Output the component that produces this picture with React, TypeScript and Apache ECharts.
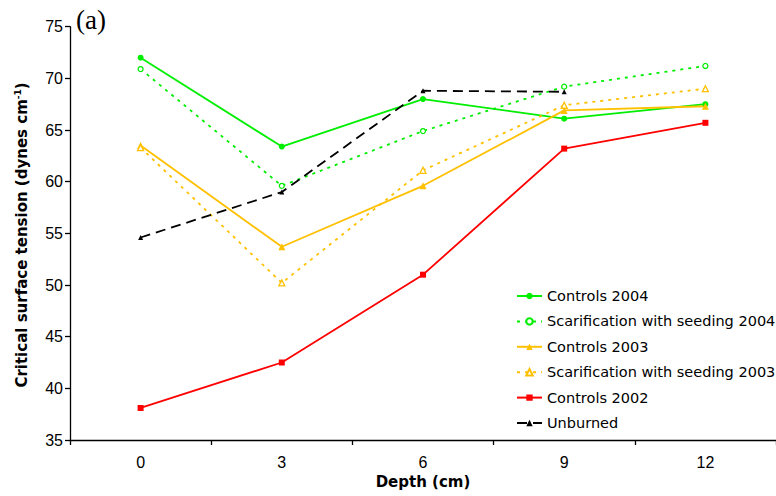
import React, { useEffect, useRef } from "react";
import * as echarts from "echarts";

const depths = ["0", "3", "6", "9", "12"];
const controls2004 = [72.0, 63.4, 68.0, 66.1, 67.5];
const scarification2004 = [70.9, 59.6, 64.9, 69.2, 71.2];
const controls2003 = [63.5, 53.7, 59.6, 66.9, 67.3];
const scarification2003 = [63.3, 50.2, 61.1, 67.4, 69.0];
const controls2002 = [38.1, 42.5, 51.0, 63.2, 65.7];
const unburned = [54.6, 59.0, 68.8, 68.7];
const yTicks = { min: 35, max: 75, step: 5 };

const FONT = "'Liberation Sans', Arial, sans-serif";
const WIDE = "'DejaVu Sans', sans-serif";
const GREEN = "#00ee00";
const ORANGE = "#ffc000";
const RED = "#ff0000";

function makeSeries(
  name: string,
  data: number[],
  color: string,
  symbol: string,
  size: number,
  lineType: any,
  hollow: boolean
) {
  return {
    name,
    type: "line",
    data,
    symbol,
    symbolSize: size,
    showSymbol: true,
    lineStyle: { color, width: 1.8, type: lineType },
    itemStyle: {
      color: hollow ? "#ffffff" : color,
      borderColor: color,
      borderWidth: hollow ? 1.3 : 0,
    },
    emphasis: { disabled: true },
  };
}

export default function App() {
  const ref = useRef<HTMLDivElement>(null);

  useEffect(() => {
    if (!ref.current) return;
    const chart = echarts.init(ref.current, undefined, { renderer: "svg" });
    chart.setOption({
      animation: false,
      backgroundColor: "#ffffff",
      grid: { left: 70, top: 26.7, width: 710, bottom: 56, containLabel: false },
      xAxis: {
        type: "category",
        data: depths,
        boundaryGap: true,
        name: "Depth (cm)",
        nameLocation: "middle",
        nameGap: 33,
        nameTextStyle: { fontFamily: WIDE, fontWeight: "bold", fontSize: 15, color: "#000" },
        axisLine: { lineStyle: { color: "#000", width: 1.3 } },
        axisTick: { show: true, length: 5, lineStyle: { color: "#000", width: 1.3 } },
        axisLabel: { fontFamily: FONT, fontSize: 16, color: "#000", margin: 14 },
        splitLine: { show: false },
      },
      yAxis: {
        type: "value",
        min: yTicks.min,
        max: yTicks.max,
        interval: yTicks.step,
        axisLine: { show: true, lineStyle: { color: "#000", width: 1.3 } },
        axisTick: { show: true, length: 5, lineStyle: { color: "#000", width: 1.3 } },
        axisLabel: { fontFamily: FONT, fontSize: 16, color: "#000", margin: 7 },
        splitLine: { show: false },
      },
      legend: {
        orient: "vertical",
        left: 516,
        top: 288,
        padding: 0,
        itemWidth: 25,
        itemHeight: 8,
        itemGap: 9.4,
        textStyle: { fontFamily: WIDE, fontSize: 14.5, color: "#000", lineHeight: 16 },
        data: [
          "Controls 2004",
          "Scarification with seeding 2004",
          "Controls 2003",
          "Scarification with seeding 2003",
          "Controls 2002",
          "Unburned",
        ],
      },
      graphic: [
        {
          type: "text",
          left: 76,
          top: 6,
          style: { text: "(a)", font: "27px 'Liberation Serif', 'Times New Roman', serif", fill: "#000" },
        },
        {
          type: "text",
          x: 22,
          y: 235,
          rotation: Math.PI / 2,
          style: {
            text: "{a|Critical surface tension (dynes cm}{s|-1}{a|)}",
            align: "center",
            verticalAlign: "middle",
            fill: "#000",
            rich: {
              a: { fontFamily: WIDE, fontWeight: "bold", fontSize: 15, fill: "#000", lineHeight: 18 },
              s: { fontFamily: WIDE, fontWeight: "bold", fontSize: 9, fill: "#000", verticalAlign: "top", lineHeight: 18, padding: [0, 0, 8, 0] },
            },
          },
        },
      ],
      series: [
        makeSeries("Controls 2004", controls2004, GREEN, "circle", 6, "solid", false),
        makeSeries("Scarification with seeding 2004", scarification2004, GREEN, "circle", 5, [3, 5], true),
        makeSeries("Controls 2003", controls2003, ORANGE, "triangle", 7, "solid", false),
        makeSeries("Scarification with seeding 2003", scarification2003, ORANGE, "triangle", 6, [3, 5], true),
        makeSeries("Controls 2002", controls2002, RED, "rect", 6, "solid", false),
        makeSeries("Unburned", unburned, "#000000", "triangle", 5, [10, 6], false),
      ],
    });
    return () => chart.dispose();
  }, []);

  return <div ref={ref} style={{ width: 776, height: 496, position: "absolute", left: 0, top: 0 }} />;
}
